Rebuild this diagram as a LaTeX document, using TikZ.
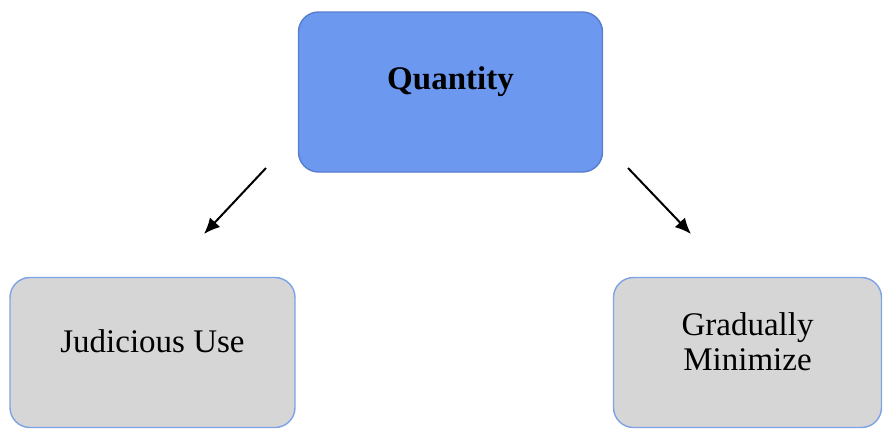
\documentclass[tikz,border=0pt]{standalone}
\usepackage{fontspec}
\setmainfont{Liberation Serif}
\usetikzlibrary{arrows.meta}
\definecolor{topblue}{RGB}{108,152,240}
\definecolor{topedge}{RGB}{88,125,205}
\definecolor{leafgray}{RGB}{214,214,214}
\definecolor{leafedge}{RGB}{125,162,230}
\tikzset{
  box/.style={draw, line width=1.4pt, rounded corners=20pt, align=center,
    font=\fontsize{33}{35}\selectfont, text depth=22pt},
  leaf/.style={box, draw=leafedge, fill=leafgray},
}

\begin{document}
\begin{tikzpicture}[x=1pt, y=-1pt, >={Latex[length=16pt,width=14pt]}]
        \useasboundingbox (0,0) rectangle (886,432);
        \node[box, draw=topedge, fill=topblue, minimum width=304pt, minimum height=160pt,
              text depth=28pt, font=\fontsize{33}{35}\selectfont\bfseries] (Q) at (450.5,92) {Quantity};
        \node[leaf, minimum width=285pt, minimum height=150pt] (J) at (152.5,352.5) {Judicious Use};
        \node[leaf, minimum width=268pt, minimum height=150pt] (G) at (747.5,352.5) {Gradually\\Minimize};
        \coordinate (ql) at (266,168);
        \coordinate (jt) at (204,234);
        \coordinate (qr) at (628,168);
        \coordinate (gt) at (691,234);
        \draw[->, line width=2pt] (ql) -- (jt);
        \draw[->, line width=2pt] (qr) -- (gt);
    \end{tikzpicture}
\end{document}
